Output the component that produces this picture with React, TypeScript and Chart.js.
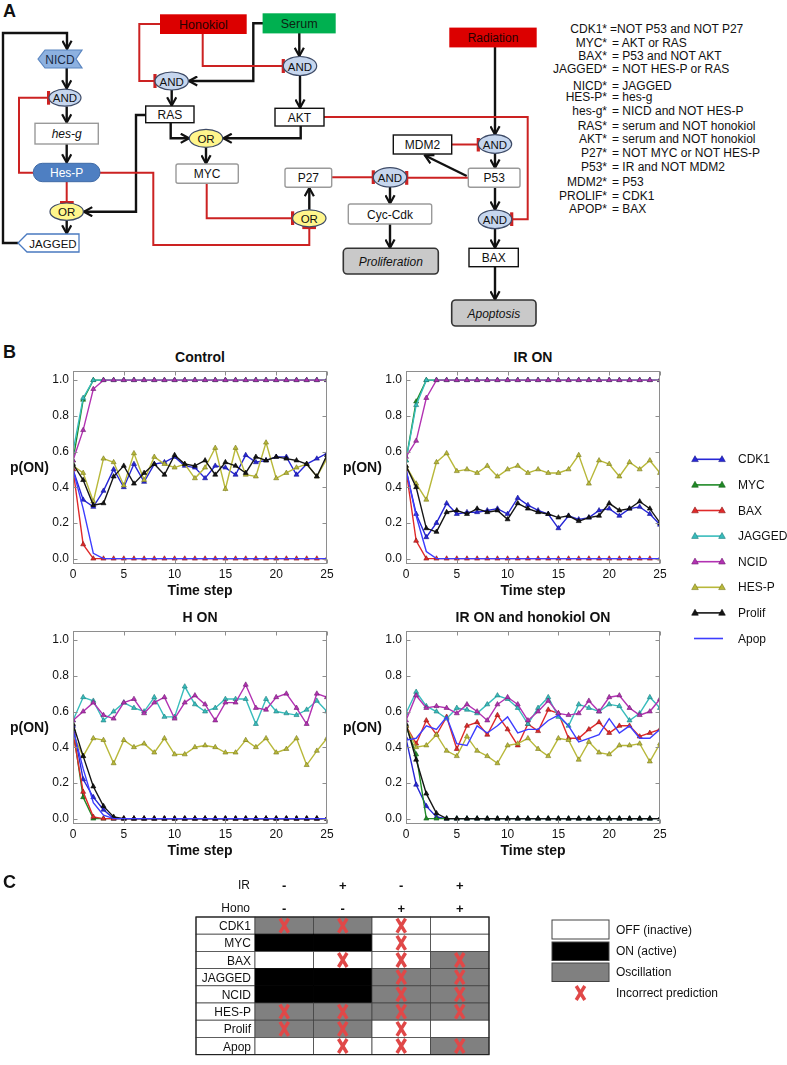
import React, { useEffect, useRef } from 'react';
import { Chart, registerables } from 'chart.js';

Chart.register(...registerables);

const FONT = '"Liberation Sans", Arial, Helvetica, sans-serif';

// ---------------- Panel B data ----------------
const TIME = [0, 1, 2, 3, 4, 5, 6, 7, 8, 9, 10, 11, 12, 13, 14, 15, 16, 17, 18, 19, 20, 21, 22, 23, 24, 25];
const Y_TICKS = [0, 0.2, 0.4, 0.6, 0.8, 1.0];
const X_TICKS = [0, 5, 10, 15, 20, 25];
const SERIES_NAMES = ['CDK1', 'MYC', 'BAX', 'JAGGED', 'NCID', 'HES-P', 'Prolif', 'Apop'];
const SERIES_COLORS = ['#2727d6', '#1f8a26', '#e02a2a', '#38bcbc', '#b232b2', '#b8b83a', '#151515', '#3d3dff'];
const SERIES_EDGES = ['#16168a', '#105a14', '#8a1414', '#1c7a7a', '#701c70', '#78781c', '#000000', '#3d3dff'];

// Control
const ctrlCDK1 = [0.50, 0.33, 0.29, 0.38, 0.50, 0.40, 0.53, 0.43, 0.53, 0.54, 0.57, 0.52, 0.51, 0.45, 0.52, 0.51, 0.47, 0.58, 0.54, 0.55, 0.57, 0.57, 0.47, 0.53, 0.56, 0.59];
const ctrlMYC = [0.55, 0.89, 1, 1, 1, 1, 1, 1, 1, 1, 1, 1, 1, 1, 1, 1, 1, 1, 1, 1, 1, 1, 1, 1, 1, 1];
const ctrlBAX = [0.50, 0.08, 0, 0, 0, 0, 0, 0, 0, 0, 0, 0, 0, 0, 0, 0, 0, 0, 0, 0, 0, 0, 0, 0, 0, 0];
const ctrlJAGGED = [0.60, 0.90, 1, 1, 1, 1, 1, 1, 1, 1, 1, 1, 1, 1, 1, 1, 1, 1, 1, 1, 1, 1, 1, 1, 1, 1];
const ctrlNCID = [0.55, 0.72, 0.95, 1, 1, 1, 1, 1, 1, 1, 1, 1, 1, 1, 1, 1, 1, 1, 1, 1, 1, 1, 1, 1, 1, 1];
const ctrlHESP = [0.52, 0.48, 0.32, 0.56, 0.54, 0.41, 0.59, 0.44, 0.57, 0.53, 0.51, 0.53, 0.45, 0.51, 0.62, 0.39, 0.62, 0.47, 0.46, 0.65, 0.45, 0.48, 0.51, 0.53, 0.46, 0.56];
const ctrlProlif = [0.53, 0.44, 0.30, 0.31, 0.46, 0.52, 0.42, 0.48, 0.53, 0.47, 0.58, 0.53, 0.52, 0.55, 0.47, 0.54, 0.52, 0.48, 0.57, 0.55, 0.57, 0.56, 0.55, 0.53, 0.46, 0.58];
const ctrlApop = [0.50, 0.28, 0.03, 0, 0, 0, 0, 0, 0, 0, 0, 0, 0, 0, 0, 0, 0, 0, 0, 0, 0, 0, 0, 0, 0, 0];

// IR ON
const irCDK1 = [0.50, 0.25, 0.12, 0.20, 0.31, 0.25, 0.26, 0.26, 0.27, 0.28, 0.25, 0.34, 0.30, 0.27, 0.25, 0.17, 0.24, 0.22, 0.23, 0.27, 0.28, 0.24, 0.28, 0.29, 0.25, 0.19];
const irMYC = [0.55, 0.88, 1, 1, 1, 1, 1, 1, 1, 1, 1, 1, 1, 1, 1, 1, 1, 1, 1, 1, 1, 1, 1, 1, 1, 1];
const irBAX = [0.50, 0.10, 0, 0, 0, 0, 0, 0, 0, 0, 0, 0, 0, 0, 0, 0, 0, 0, 0, 0, 0, 0, 0, 0, 0, 0];
const irJAGGED = [0.55, 0.86, 1, 1, 1, 1, 1, 1, 1, 1, 1, 1, 1, 1, 1, 1, 1, 1, 1, 1, 1, 1, 1, 1, 1, 1];
const irNCID = [0.57, 0.66, 0.90, 1, 1, 1, 1, 1, 1, 1, 1, 1, 1, 1, 1, 1, 1, 1, 1, 1, 1, 1, 1, 1, 1, 1];
const irHESP = [0.52, 0.42, 0.33, 0.54, 0.59, 0.49, 0.50, 0.48, 0.52, 0.46, 0.50, 0.52, 0.48, 0.50, 0.48, 0.48, 0.50, 0.58, 0.42, 0.55, 0.53, 0.46, 0.54, 0.50, 0.55, 0.48];
const irProlif = [0.52, 0.40, 0.17, 0.15, 0.26, 0.27, 0.25, 0.28, 0.26, 0.27, 0.22, 0.31, 0.28, 0.26, 0.25, 0.23, 0.24, 0.21, 0.23, 0.24, 0.31, 0.27, 0.28, 0.32, 0.28, 0.20];
const irApop = [0.50, 0.24, 0.04, 0, 0, 0, 0, 0, 0, 0, 0, 0, 0, 0, 0, 0, 0, 0, 0, 0, 0, 0, 0, 0, 0, 0];

// H ON
const hCDK1 = [0.52, 0.22, 0.12, 0.05, 0, 0, 0, 0, 0, 0, 0, 0, 0, 0, 0, 0, 0, 0, 0, 0, 0, 0, 0, 0, 0, 0];
const hMYC = [0.50, 0.12, 0, 0, 0, 0, 0, 0, 0, 0, 0, 0, 0, 0, 0, 0, 0, 0, 0, 0, 0, 0, 0, 0, 0, 0];
const hBAX = [0.48, 0.15, 0.01, 0, 0, 0, 0, 0, 0, 0, 0, 0, 0, 0, 0, 0, 0, 0, 0, 0, 0, 0, 0, 0, 0, 0];
const hJAGGED = [0.55, 0.68, 0.66, 0.55, 0.60, 0.65, 0.62, 0.60, 0.68, 0.57, 0.57, 0.74, 0.64, 0.60, 0.62, 0.67, 0.67, 0.67, 0.53, 0.67, 0.60, 0.59, 0.58, 0.61, 0.66, 0.60];
const hNCID = [0.55, 0.60, 0.65, 0.58, 0.56, 0.65, 0.67, 0.59, 0.65, 0.68, 0.56, 0.65, 0.69, 0.64, 0.55, 0.65, 0.65, 0.75, 0.62, 0.61, 0.68, 0.70, 0.62, 0.53, 0.70, 0.68];
const hHESP = [0.47, 0.35, 0.45, 0.44, 0.31, 0.44, 0.40, 0.42, 0.37, 0.45, 0.36, 0.36, 0.40, 0.41, 0.40, 0.37, 0.37, 0.44, 0.40, 0.45, 0.37, 0.39, 0.45, 0.30, 0.38, 0.45];
const hProlif = [0.53, 0.35, 0.18, 0.07, 0.01, 0, 0, 0, 0, 0, 0, 0, 0, 0, 0, 0, 0, 0, 0, 0, 0, 0, 0, 0, 0, 0];
const hApop = [0.50, 0.28, 0.09, 0.02, 0, 0, 0, 0, 0, 0, 0, 0, 0, 0, 0, 0, 0, 0, 0, 0, 0, 0, 0, 0, 0, 0];

// IR ON and honokiol ON
const ihCDK1 = [0.45, 0.19, 0.07, 0.01, 0, 0, 0, 0, 0, 0, 0, 0, 0, 0, 0, 0, 0, 0, 0, 0, 0, 0, 0, 0, 0, 0];
const ihMYC = [0.52, 0.36, 0, 0, 0, 0, 0, 0, 0, 0, 0, 0, 0, 0, 0, 0, 0, 0, 0, 0, 0, 0, 0, 0, 0, 0];
const ihBAX = [0.52, 0.42, 0.55, 0.47, 0.57, 0.39, 0.52, 0.54, 0.47, 0.58, 0.50, 0.41, 0.53, 0.49, 0.61, 0.59, 0.45, 0.45, 0.50, 0.54, 0.48, 0.52, 0.52, 0.46, 0.48, 0.50];
const ihJAGGED = [0.59, 0.71, 0.63, 0.60, 0.56, 0.62, 0.61, 0.59, 0.64, 0.69, 0.67, 0.62, 0.53, 0.62, 0.68, 0.57, 0.52, 0.64, 0.62, 0.60, 0.64, 0.63, 0.55, 0.59, 0.68, 0.62];
const ihNCID = [0.55, 0.69, 0.62, 0.63, 0.62, 0.59, 0.64, 0.60, 0.55, 0.64, 0.68, 0.64, 0.55, 0.60, 0.66, 0.59, 0.58, 0.59, 0.66, 0.60, 0.68, 0.69, 0.62, 0.58, 0.60, 0.67];
const ihHESP = [0.52, 0.40, 0.41, 0.47, 0.38, 0.35, 0.46, 0.38, 0.35, 0.31, 0.41, 0.42, 0.45, 0.39, 0.35, 0.45, 0.44, 0.33, 0.43, 0.37, 0.36, 0.41, 0.41, 0.42, 0.32, 0.42];
const ihProlif = [0.53, 0.33, 0.14, 0.03, 0, 0, 0, 0, 0, 0, 0, 0, 0, 0, 0, 0, 0, 0, 0, 0, 0, 0, 0, 0, 0, 0];
const ihApop = [0.44, 0.45, 0.52, 0.50, 0.57, 0.42, 0.41, 0.52, 0.48, 0.52, 0.57, 0.48, 0.50, 0.50, 0.55, 0.58, 0.52, 0.43, 0.45, 0.47, 0.56, 0.48, 0.52, 0.45, 0.45, 0.50];

const CHART_TITLES = ['Control', 'IR ON', 'H ON', 'IR ON and honokiol ON'];

// ---------------- Panel A text ----------------
const EQ_LEFT = ['CDK1*', 'MYC*', 'BAX*', 'JAGGED*', 'NICD*', 'HES-P*', 'hes-g*', 'RAS*', 'AKT*', 'P27*', 'P53*', 'MDM2*', 'PROLIF*', 'APOP*'];
const EQ_RIGHT = ['=NOT P53 and NOT P27', '= AKT or RAS', '= P53 and NOT AKT', '= NOT HES-P or RAS', '= JAGGED', '= hes-g', '= NICD and NOT HES-P', '= serum and NOT honokiol', '= serum and NOT honokiol', '= NOT MYC or NOT HES-P', '= IR and NOT MDM2', '= P53', '= CDK1', '= BAX'];

// ---------------- Panel C data ----------------
const TABLE_ROWS = ['CDK1', 'MYC', 'BAX', 'JAGGED', 'NCID', 'HES-P', 'Prolif', 'Apop'];
const IR_SIGNS = ['-', '+', '-', '+'];
const HONO_SIGNS = ['-', '-', '+', '+'];
// 0 = OFF, 1 = ON, 2 = oscillation
const TABLE_STATES = [
  [2, 2, 0, 0],
  [1, 1, 0, 0],
  [0, 0, 0, 2],
  [1, 1, 2, 2],
  [1, 1, 2, 2],
  [2, 2, 2, 2],
  [2, 2, 0, 0],
  [0, 0, 0, 2],
];
const TABLE_WRONG = [
  [1, 1, 1, 0],
  [0, 0, 1, 0],
  [0, 1, 1, 1],
  [0, 0, 1, 1],
  [0, 0, 1, 1],
  [1, 1, 1, 1],
  [1, 1, 1, 0],
  [0, 1, 1, 1],
];
const LEGEND_C = ['OFF (inactive)', 'ON (active)', 'Oscillation', 'Incorrect prediction'];

// ---------------- Chart geometry ----------------
const PLOT_W = 254;
const PLOT_H = 194;
const Y_AXIS_W = 34;
const PAD_T = 10;
const PAD_R = 12;
const X_AXIS_H = 22;
const CW = Y_AXIS_W + PLOT_W + PAD_R;
const CH = PAD_T + PLOT_H + X_AXIS_H;

const boxPlugin = {
  id: 'mplBox',
  afterDatasetsDraw(chart: any) {
    const { ctx, chartArea: a, scales } = chart;
    ctx.save();
    ctx.strokeStyle = '#8e8e8e';
    ctx.lineWidth = 1;
    const l = Math.round(a.left) + 0.5;
    const r = Math.round(a.right) - 0.5;
    const t = Math.round(a.top) + 0.5;
    const b = Math.round(a.bottom) - 0.5;
    ctx.strokeRect(l, t, r - l, b - t);
    ctx.beginPath();
    Y_TICKS.forEach((v) => {
      const y = Math.round(scales.y.getPixelForValue(v)) + 0.5;
      ctx.moveTo(l, y); ctx.lineTo(l + 4, y);
      ctx.moveTo(r, y); ctx.lineTo(r - 4, y);
    });
    X_TICKS.forEach((v) => {
      const x = Math.round(scales.x.getPixelForValue(v)) + 0.5;
      ctx.moveTo(x, t); ctx.lineTo(x, t + 4);
      ctx.moveTo(x, b); ctx.lineTo(x, b - 4);
    });
    ctx.stroke();
    ctx.restore();
  },
};

function SimChart({ series, plotLeft, plotTop }: { series: number[][]; plotLeft: number; plotTop: number }) {
  const ref = useRef<HTMLCanvasElement | null>(null);
  useEffect(() => {
    if (!ref.current) return;
    const chart = new Chart(ref.current, {
      type: 'line',
      data: {
        datasets: SERIES_NAMES.map((name, k) => ({
          label: name,
          data: TIME.map((t, i) => ({ x: t, y: series[k][i] })),
          borderColor: SERIES_COLORS[k],
          backgroundColor: SERIES_COLORS[k],
          pointBackgroundColor: SERIES_COLORS[k],
          pointBorderColor: SERIES_EDGES[k],
          pointBorderWidth: 0.6,
          borderWidth: 1.4,
          pointStyle: 'triangle',
          pointRadius: name === 'Apop' ? 0 : 2.9,
          tension: 0,
          fill: false,
          order: SERIES_NAMES.length - k,
        })),
      },
      options: {
        responsive: false,
        animation: false,
        devicePixelRatio: 1,
        events: [],
        layout: { padding: { top: PAD_T, right: PAD_R, left: 0, bottom: 0 } },
        plugins: { legend: { display: false }, tooltip: { enabled: false }, title: { display: false } },
        scales: {
          x: {
            type: 'linear',
            min: 0,
            max: 25,
            afterBuildTicks: (s: any) => { s.ticks = X_TICKS.map((v) => ({ value: v })); },
            afterFit: (s: any) => { s.height = X_AXIS_H; },
            grid: { display: false, drawTicks: false },
            border: { display: false },
            ticks: { font: { family: FONT, size: 12 }, color: '#111', padding: 3, maxRotation: 0, autoSkip: false, callback: (v: any) => String(v) },
          },
          y: {
            type: 'linear',
            min: -0.03,
            max: 1.05,
            afterBuildTicks: (s: any) => { s.ticks = Y_TICKS.map((v) => ({ value: v })); },
            afterFit: (s: any) => { s.width = Y_AXIS_W; },
            grid: { display: false, drawTicks: false },
            border: { display: false },
            ticks: { font: { family: FONT, size: 12 }, color: '#111', padding: 4, autoSkip: false, callback: (v: any) => Number(v).toFixed(1) },
          },
        },
      } as any,
      plugins: [boxPlugin],
    } as any);
    return () => chart.destroy();
  }, []);
  return (
    <canvas
      ref={ref}
      width={CW}
      height={CH}
      style={{ position: 'absolute', left: plotLeft - Y_AXIS_W, top: plotTop - PAD_T, width: CW, height: CH }}
    />
  );
}

const abs = (extra: any) => ({ position: 'absolute' as const, fontFamily: FONT, color: '#111', whiteSpace: 'nowrap' as const, ...extra });

function ChartBlock({ title, series, plotLeft, plotTop, pLeft }: any) {
  return (
    <>
      <div style={abs({ left: plotLeft, top: plotTop - 22, width: PLOT_W, textAlign: 'center', fontWeight: 'bold', fontSize: 14, lineHeight: '18px' })}>{title}</div>
      <SimChart series={series} plotLeft={plotLeft} plotTop={plotTop} />
      <div style={abs({ left: plotLeft, top: plotTop + 211, width: PLOT_W, textAlign: 'center', fontWeight: 'bold', fontSize: 14, lineHeight: '18px' })}>Time step</div>
      <div style={abs({ left: pLeft, top: plotTop + 88, fontWeight: 'bold', fontSize: 14, lineHeight: '18px' })}>p(ON)</div>
    </>
  );
}

function SeriesLegend() {
  const x0 = 694, x1 = 723, y0 = 459.3, dy = 25.6;
  const tri = (cx: number, cy: number, c: string, e: string) => (
    <polygon points={`${cx},${cy - 3.6} ${cx + 3.3},${cy + 2.3} ${cx - 3.3},${cy + 2.3}`} fill={c} stroke={e} strokeWidth={0.6} />
  );
  return (
    <svg width={787} height={1065} style={{ position: 'absolute', left: 0, top: 0, pointerEvents: 'none' }}>
      {SERIES_NAMES.map((n, k) => {
        const y = y0 + dy * k;
        return (
          <g key={n}>
            <line x1={x0} y1={y} x2={x1} y2={y} stroke={SERIES_COLORS[k]} strokeWidth={1.6} />
            {n !== 'Apop' && tri(x0 + 1, y, SERIES_COLORS[k], SERIES_EDGES[k])}
            {n !== 'Apop' && tri(x1 - 1, y, SERIES_COLORS[k], SERIES_EDGES[k])}
            <text x={738} y={y} dominantBaseline="central" fontFamily={FONT} fontSize={12} fill="#111">{n}</text>
          </g>
        );
      })}
    </svg>
  );
}

function NetworkDiagram() {
  const K = '#111';
  const R = '#cc2222';
  const blk = (pts: string, key: string) => <polyline key={key} points={pts} fill="none" stroke={K} strokeWidth={2.4} markerEnd="url(#ahB)" />;
  const red = (pts: string, key: string) => <polyline key={key} points={pts} fill="none" stroke={R} strokeWidth={2} markerEnd="url(#barR)" />;
  const gate = (cx: number, cy: number, kind: 'AND' | 'OR', key: string, rx = 16.7, ry = 9) => (
    <g key={key}>
      <ellipse cx={cx} cy={cy} rx={rx} ry={ry} fill={kind === 'AND' ? '#c6d6ee' : '#fff68c'} stroke="#3d4a66" strokeWidth={1.2} />
      <text x={cx} y={cy + 0.5} textAnchor="middle" dominantBaseline="central" fontFamily={FONT} fontSize={11.5} fill="#111">{kind}</text>
    </g>
  );
  const box = (x: number, y: number, w: number, h: number, label: string, key: string, o: any = {}) => (
    <g key={key}>
      <rect x={x} y={y} width={w} height={h} rx={o.rx || 0} fill={o.fill || '#fff'} stroke={o.stroke || K} strokeWidth={o.sw || 1.4} />
      <text x={x + w / 2} y={y + h / 2 + 0.5} textAnchor="middle" dominantBaseline="central" fontFamily={FONT} fontSize={o.fs || 12} fontStyle={o.italic ? 'italic' : 'normal'} fill={o.color || '#111'}>{label}</text>
    </g>
  );
  const eqY = [29, 42.5, 56, 69.3, 85.5, 96.8, 111, 126, 139.3, 152.7, 167.3, 182.3, 195.7, 209.3];
  return (
    <svg width={787} height={340} style={{ position: 'absolute', left: 0, top: 0 }}>
      <defs>
        <marker id="ahB" viewBox="0 0 12 12" refX="10.5" refY="6" markerWidth="11" markerHeight="11" orient="auto" markerUnits="userSpaceOnUse">
          <path d="M1.5,1 L10.5,6 L1.5,11" fill="none" stroke={K} strokeWidth={2.4} />
        </marker>
        <marker id="barR" viewBox="0 0 4 14" refX="2" refY="7" markerWidth="4" markerHeight="14" orient="auto" markerUnits="userSpaceOnUse">
          <path d="M2,0 L2,14" stroke={R} strokeWidth={3.2} />
        </marker>
      </defs>
      <text x={3} y={17} fontFamily={FONT} fontSize={18} fontWeight="bold" fill="#111">A</text>
      {/* black edges */}
      {blk('18,243 3,243 3,33 67,33 67,49', 'e1')}
      {blk('66.7,68 66.7,88.5', 'e2')}
      {blk('66.7,106.5 66.7,122.5', 'e3')}
      {blk('66.7,144 66.7,162.5', 'e4')}
      {blk('145.7,115 136,115 136,211.7 84,211.7', 'e5')}
      {blk('66.7,220.5 66.7,233.5', 'e6')}
      {blk('299.3,32.7 299.3,56', 'e7')}
      {blk('263.3,23.3 253.3,23.3 253.3,81 189,81', 'e8')}
      {blk('171.7,90 171.7,105.5', 'e9')}
      {blk('300,75.5 300,107.8', 'e10')}
      {blk('170.7,122.7 170.7,138.3 189,138.3', 'e11')}
      {blk('300.7,126 300.7,138.3 223.5,138.3', 'e12')}
      {blk('206,147.3 206,163.5', 'e13')}
      {blk('309.3,209.8 309.3,188', 'e14')}
      {blk('495,46.7 495,134.5', 'e15')}
      {blk('495,153.3 495,167.8', 'e16')}
      {blk('466.7,176 425,155.5', 'e17')}
      {blk('390,187 390,203.5', 'e18')}
      {blk('390,224 390,247.8', 'e19')}
      {blk('495,187.3 495,209.8', 'e20')}
      {blk('495,228.6 495,247.8', 'e21')}
      {blk('495,266.7 495,299.5', 'e22')}
      {/* red inhibitions */}
      {red('202.7,33.3 202.7,66 283.3,66', 'r1')}
      {red('160.7,24 139.3,24 139.3,81 155,81', 'r2')}
      {red('33.3,172.7 19,172.7 19,97.7 48.5,97.7', 'r3')}
      {red('66.7,182 66.7,202.5', 'r4')}
      {red('100,172.7 153.3,172.7 153.3,245 309.3,245 309.3,227.5', 'r5')}
      {red('206.7,183.3 206.7,218.3 292.6,218.3', 'r6')}
      {red('324,117 527.7,117 527.7,219.3 511.7,219.3', 'r7')}
      {red('451.7,144.5 478.3,144.5', 'r8')}
      {red('468.3,177.8 406.7,177.8', 'r9')}
      {red('331.7,177.3 373.3,177.3', 'r10')}
      {/* nodes */}
      <polygon points="38,59 45,50 82,50 76,59 82,68 45,68" fill="#8db1e0" stroke="#5a85c0" strokeWidth={1.2} />
      <text x={60} y={59.5} textAnchor="middle" dominantBaseline="central" fontFamily={FONT} fontSize={12} fill="#1a2a44">NICD</text>
      {gate(65, 97.7, 'AND', 'g1', 16, 8.5)}
      {box(35, 123.3, 63.3, 20.7, 'hes-g', 'b1', { stroke: '#9a9a9a', italic: true })}
      <rect x={33.3} y={163.3} width={66.7} height={18.4} rx={9} fill="#4e7fc2" stroke="#3f6aa6" strokeWidth={1} />
      <text x={66.7} y={173} textAnchor="middle" dominantBaseline="central" fontFamily={FONT} fontSize={12} fill="#fff">Hes-P</text>
      {gate(66.7, 211.7, 'OR', 'g2', 16.7, 8.7)}
      <polygon points="18,243 27,234 79,234 79,252 27,252" fill="#fff" stroke="#4a7ac0" strokeWidth={1.3} />
      <text x={53} y={243.5} textAnchor="middle" dominantBaseline="central" fontFamily={FONT} fontSize={11.5} fill="#111">JAGGED</text>
      {box(160.7, 15, 85.3, 18.3, 'Honokiol', 'b2', { fill: '#dc0000', stroke: '#dc0000', color: '#2a0000', fs: 12.5 })}
      {box(263.3, 14, 71.7, 18.7, 'Serum', 'b3', { fill: '#00b050', stroke: '#00b050', color: '#0c2412', fs: 12.5 })}
      {box(450, 28.3, 86, 18.4, 'Radiation', 'b4', { fill: '#dc0000', stroke: '#dc0000', color: '#2a0000' })}
      {gate(171.7, 81, 'AND', 'g3')}
      {gate(300, 66, 'AND', 'g4', 16.7, 9.5)}
      {box(145.7, 106, 48.3, 16.7, 'RAS', 'b5')}
      {box(275, 108.3, 49, 17.7, 'AKT', 'b6')}
      {gate(206, 138.3, 'OR', 'g5')}
      {box(176, 164, 62.3, 19.3, 'MYC', 'b7', { stroke: '#9a9a9a', rx: 2 })}
      {box(285, 168.3, 46.7, 19, 'P27', 'b8', { stroke: '#9a9a9a', rx: 2 })}
      {gate(309.3, 218.3, 'OR', 'g6', 16.7, 8.5)}
      {box(393.3, 135, 58.4, 19, 'MDM2', 'b9')}
      {gate(495, 144, 'AND', 'g7', 16.7, 9.3)}
      {box(468.3, 168.3, 51.7, 19, 'P53', 'b10', { stroke: '#9a9a9a', rx: 2 })}
      {gate(390, 177.3, 'AND', 'g8', 16.7, 9.7)}
      {box(348.3, 204, 83.4, 20, 'Cyc-Cdk', 'b11', { stroke: '#9a9a9a', rx: 2 })}
      {box(343.3, 248.3, 95, 25.7, 'Proliferation', 'b12', { fill: '#c9c9c9', stroke: '#333', rx: 4, italic: true, sw: 1.6 })}
      {gate(495, 219.3, 'AND', 'g9', 16.7, 9.3)}
      {box(469, 248.3, 49.3, 18.4, 'BAX', 'b13')}
      {box(451.7, 300, 84.3, 26, 'Apoptosis', 'b14', { fill: '#c9c9c9', stroke: '#333', rx: 4, italic: true, sw: 1.6 })}
      {/* equations */}
      {EQ_LEFT.map((s, i) => (
        <g key={s + i}>
          <text x={607} y={eqY[i]} textAnchor="end" dominantBaseline="central" fontFamily={FONT} fontSize={12} fill="#111">{s}</text>
          <text x={i === 0 ? 610 : 612} y={eqY[i]} dominantBaseline="central" fontFamily={FONT} fontSize={12} fill="#111">{EQ_RIGHT[i]}</text>
        </g>
      ))}
    </svg>
  );
}

function StateTable() {
  const left = 196, labelRight = 255, colW = 58.5, top = 917, rowH = 17.2;
  const xMark = (cx: number, cy: number, key: string) => (
    <path key={key} d={`M${cx - 4.3},${cy - 7} L${cx + 4.3},${cy + 7} M${cx + 4.3},${cy - 7} L${cx - 4.3},${cy + 7}`} stroke="#e04848" strokeWidth={3.4} fill="none" />
  );
  const fills = ['#ffffff', '#000000', '#808080'];
  return (
    <svg width={787} height={1065} style={{ position: 'absolute', left: 0, top: 0 }}>
      <text x={3} y={888} fontFamily={FONT} fontSize={18} fontWeight="bold" fill="#111">C</text>
      <text x={250} y={885} textAnchor="end" dominantBaseline="central" fontFamily={FONT} fontSize={12} fill="#111">IR</text>
      <text x={250} y={908} textAnchor="end" dominantBaseline="central" fontFamily={FONT} fontSize={12} fill="#111">Hono</text>
      {IR_SIGNS.map((s, j) => (
        <text key={'ir' + j} x={labelRight + colW * (j + 0.5)} y={885} textAnchor="middle" dominantBaseline="central" fontFamily={FONT} fontSize={13} fontWeight="bold" fill="#111">{s}</text>
      ))}
      {HONO_SIGNS.map((s, j) => (
        <text key={'ho' + j} x={labelRight + colW * (j + 0.5)} y={908} textAnchor="middle" dominantBaseline="central" fontFamily={FONT} fontSize={13} fontWeight="bold" fill="#111">{s}</text>
      ))}
      {TABLE_ROWS.map((name, i) => {
        const y = top + rowH * i;
        return (
          <g key={name}>
            <rect x={left} y={y} width={labelRight - left} height={rowH} fill="#fff" stroke="#444" strokeWidth={0.8} />
            <text x={labelRight - 4} y={y + rowH / 2 + 0.5} textAnchor="end" dominantBaseline="central" fontFamily={FONT} fontSize={12} fill="#111">{name}</text>
            {TABLE_STATES[i].map((st, j) => (
              <rect key={j} x={labelRight + colW * j} y={y} width={colW} height={rowH} fill={fills[st]} stroke={st === 1 ? '#000' : '#444'} strokeWidth={0.8} />
            ))}
          </g>
        );
      })}
      <rect x={left} y={top} width={labelRight + colW * 4 - left} height={rowH * 8} fill="none" stroke="#222" strokeWidth={1.2} />
      {TABLE_ROWS.map((name, i) =>
        TABLE_WRONG[i].map((w, j) => (w ? xMark(labelRight + colW * (j + 0.5), top + rowH * (i + 0.5), name + 'x' + j) : null))
      )}
      {/* legend */}
      <rect x={552} y={920} width={57} height={19} fill="#fff" stroke="#444" strokeWidth={1} />
      <rect x={552} y={942} width={57} height={18.5} fill="#000" stroke="#444" strokeWidth={1} />
      <rect x={552} y={963} width={57} height={18.5} fill="#808080" stroke="#444" strokeWidth={1} />
      {xMark(580.5, 993, 'legx')}
      {LEGEND_C.map((s, i) => (
        <text key={s} x={616} y={[929.5, 951, 972, 993][i]} dominantBaseline="central" fontFamily={FONT} fontSize={12} fill="#111">{s}</text>
      ))}
    </svg>
  );
}

export default function App() {
  const allSeries = [
    [ctrlCDK1, ctrlMYC, ctrlBAX, ctrlJAGGED, ctrlNCID, ctrlHESP, ctrlProlif, ctrlApop],
    [irCDK1, irMYC, irBAX, irJAGGED, irNCID, irHESP, irProlif, irApop],
    [hCDK1, hMYC, hBAX, hJAGGED, hNCID, hHESP, hProlif, hApop],
    [ihCDK1, ihMYC, ihBAX, ihJAGGED, ihNCID, ihHESP, ihProlif, ihApop],
  ];
  const lefts = [73, 406, 73, 406];
  const tops = [370, 370, 630, 630];
  const pLefts = [10, 343, 10, 343];
  return (
    <div style={{ position: 'absolute', left: 0, top: 0, width: 787, height: 1065, background: '#fff', overflow: 'hidden', fontFamily: FONT }}>
      <NetworkDiagram />
      <div style={abs({ left: 3, top: 342, fontWeight: 'bold', fontSize: 18, lineHeight: '20px' })}>B</div>
      {CHART_TITLES.map((t, i) => (
        <ChartBlock key={t} title={t} series={allSeries[i]} plotLeft={lefts[i]} plotTop={tops[i]} pLeft={pLefts[i]} />
      ))}
      <SeriesLegend />
      <StateTable />
    </div>
  );
}
